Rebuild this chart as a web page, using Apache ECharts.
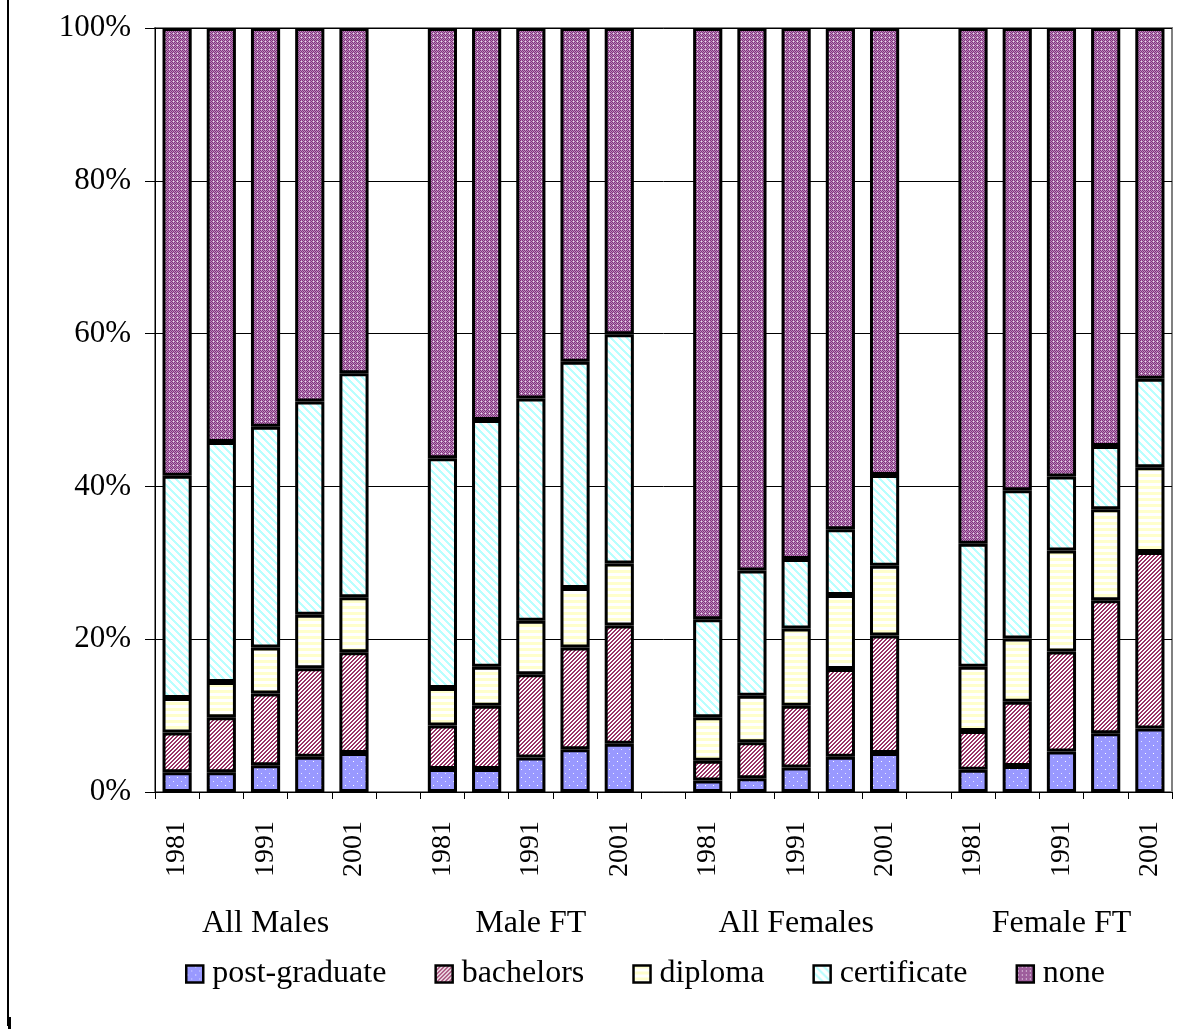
<!DOCTYPE html>
<html>
<head>
<meta charset="utf-8">
<script src="https://cdn.jsdelivr.net/npm/echarts@6/dist/echarts.min.js"></script>
<style>
html,body{margin:0;padding:0;background:#fff;}
#chart{width:1202px;height:1033px;}
</style>
</head>
<body>
<div id="chart"></div>
<script>
// ---- data ----
const years = ['1981', '1986', '1991', '1996', '2001'];
const groups = ['All Males', 'Male FT', 'All Females', 'Female FT'];
const seriesNames = ['post-graduate', 'bachelors', 'diploma', 'certificate', 'none'];
const postGraduate = [[2.6, 2.6, 3.5, 4.6, 5.1], [3.0, 3.0, 4.5, 5.6, 6.3], [1.5, 1.8, 3.2, 4.6, 5.1], [2.9, 3.4, 5.3, 7.7, 8.3]];
const bachelors = [[5.2, 7.2, 9.4, 11.6, 13.2], [5.7, 8.3, 10.9, 13.3, 15.5], [2.6, 4.7, 8.1, 11.5, 15.4], [5.1, 8.4, 13.1, 17.4, 23.1]];
const diploma = [[4.5, 4.6, 6.0, 7.0, 7.2], [4.9, 5.1, 7.0, 7.8, 8.1], [5.7, 6.1, 10.1, 9.7, 9.1], [8.4, 8.3, 13.2, 11.9, 11.1]];
const certificate = [[29.1, 31.4, 28.9, 27.9, 29.3], [30.1, 32.3, 29.1, 29.6, 30.0], [12.8, 16.4, 9.1, 8.6, 11.9], [16.1, 19.4, 9.7, 8.3, 11.6]];
const none = [[58.6, 54.2, 52.2, 48.9, 45.2], [56.3, 51.3, 48.5, 43.7, 40.1], [77.4, 71.0, 69.5, 65.6, 58.5], [67.5, 60.5, 58.7, 54.7, 45.9]];
const yTicks = [0, 20, 40, 60, 80, 100];

// ---- build category axis (with an empty slot between groups) ----
const cats = [], groupCats = [];
groups.forEach((g, gi) => {
  years.forEach((y, yi) => { cats.push(y); groupCats.push(yi === 2 ? g : ''); });
  if (gi < groups.length - 1) { cats.push(''); groupCats.push(''); }
});
function flatten(arr) {
  const out = [];
  arr.forEach((grp, gi) => { grp.forEach(v => out.push(v)); if (gi < arr.length - 1) out.push(null); });
  return out;
}

// ---- patterns ----
function pat(w, h, draw) {
  const c = document.createElement('canvas'); c.width = w; c.height = h;
  const ctx = c.getContext('2d'); draw(ctx, w, h); return { image: c, repeat: 'repeat' };
}
function px(ctx, x, y, col) { ctx.fillStyle = col; ctx.fillRect(x, y, 1, 1); }
const pPG = pat(8, 8, (ctx, w, h) => {
  ctx.fillStyle = '#9999ff'; ctx.fillRect(0, 0, w, h);
  px(ctx, 1, 1, '#ffffff'); px(ctx, 5, 5, '#e6e6ff');
});
const pBach = pat(4, 4, (ctx, w, h) => {
  ctx.fillStyle = '#ffffff'; ctx.fillRect(0, 0, w, h);
  for (let x = 0; x < w; x++) for (let y = 0; y < h; y++) if ((x + y) % 4 < 2) px(ctx, x, y, '#993366');
});
const pDip = pat(6, 6, (ctx, w, h) => {
  ctx.fillStyle = '#ffffff'; ctx.fillRect(0, 0, w, h);
  ctx.fillStyle = '#ffffcc'; ctx.fillRect(0, 0, w, 3);
});
const pCert = pat(8, 8, (ctx, w, h) => {
  ctx.fillStyle = '#ffffff'; ctx.fillRect(0, 0, w, h);
  for (let x = 0; x < w; x++) for (let y = 0; y < h; y++) if (((x - y) % 8 + 8) % 8 < 3) px(ctx, x, y, '#b8ffff');
});
const pNone = pat(4, 4, (ctx, w, h) => {
  for (let x = 0; x < w; x++) for (let y = 0; y < h; y++) px(ctx, x, y, (x + y) % 2 ? '#ba8cba' : '#82307f');
  px(ctx, 1, 1, '#eedcee');
});
const patterns = [pPG, pBach, pDip, pCert, pNone];
const dataSets = [postGraduate, bachelors, diploma, certificate, none];

const FONT = 'Liberation Serif';
const chart = echarts.init(document.getElementById('chart'), null, { renderer: 'canvas' });
chart.setOption({
  animation: false,
  backgroundColor: '#ffffff',
  textStyle: { fontFamily: FONT, color: '#000' },
  grid: { left: 155, right: 30, top: 28, bottom: 241, show: true, borderColor: '#808080', borderWidth: 2 },
  legend: {
    bottom: 38, left: 180,
    icon: 'rect', itemWidth: 17, itemHeight: 17, itemGap: 48,
    itemStyle: { borderColor: '#000', borderWidth: 2.5 },
    textStyle: { fontFamily: FONT, fontSize: 32, color: '#000', padding: [0, 0, 0, 4] },
    data: seriesNames
  },
  xAxis: [{
    type: 'category', data: cats, position: 'bottom',
    axisLine: { lineStyle: { color: '#000', width: 1 } },
    axisTick: { show: true, interval: 0, length: 7, lineStyle: { color: '#000' } },
    axisLabel: { interval: 1, rotate: 90, margin: 29, fontFamily: FONT, fontSize: 28, color: '#000' }
  }, {
    type: 'category', data: groupCats, position: 'bottom',
    axisLine: { show: false }, axisTick: { show: false },
    axisLabel: { interval: 0, margin: 116, fontFamily: FONT, fontSize: 32, color: '#000' }
  }],
  yAxis: {
    type: 'value', min: yTicks[0], max: yTicks[yTicks.length - 1], interval: 20,
    axisLine: { show: true, lineStyle: { color: '#000', width: 1 } },
    axisTick: { show: true, length: 10, lineStyle: { color: '#000' } },
    axisLabel: { formatter: '{value}%', margin: 24, fontFamily: FONT, fontSize: 31, color: '#000' },
    splitLine: { lineStyle: { color: '#000', width: 1 } }
  },
  series: seriesNames.map((n, i) => ({
    name: n, type: 'bar', stack: 'total', xAxisIndex: 0,
    barWidth: '66%',
    itemStyle: { color: patterns[i], borderColor: '#000', borderWidth: 3 },
    data: flatten(dataSets[i])
  })),
  graphic: [
    { type: 'rect', shape: { x: 7, y: 0, width: 2, height: 1026 }, style: { fill: '#000' } },
    { type: 'rect', shape: { x: 8, y: 1017, width: 3, height: 12 }, style: { fill: '#000' } }
  ]
});
</script>
</body>
</html>
